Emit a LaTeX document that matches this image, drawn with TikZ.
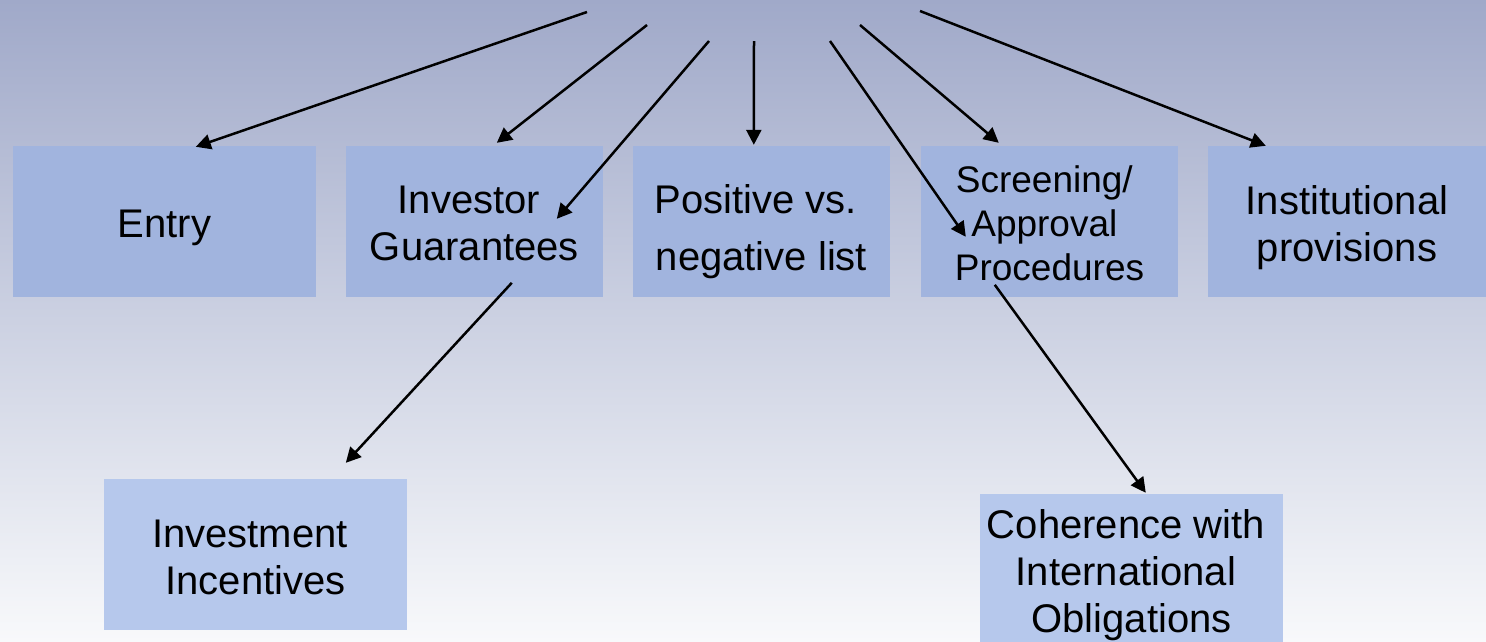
\documentclass[tikz,border=0pt]{standalone}
\usepackage{fontspec}
\setmainfont{Liberation Sans}
\usetikzlibrary{arrows.meta,calc}
\definecolor{bgtop}{HTML}{A0A9C9}
\definecolor{bgbot}{HTML}{F8F9FB}
\definecolor{boxtop}{HTML}{A1B4DE}
\definecolor{boxbot}{HTML}{B6C8EC}
% #1 = lift of the first baseline above the box centre
\newcommand\boxtext[2]{\raisebox{#1}[0pt][0pt]{\begin{tabular}[t]{@{}c@{}}#2\end{tabular}}}
% trailing space kept at a line end
\newcommand\tsp{\hspace{0.278em}\kern0pt}
\tikzset{
  box/.style={fill=boxtop, draw=none, minimum height=151pt, inner sep=0pt,
    font=\fontsize{40}{47}\selectfont, text=black},
  lowbox/.style={box, fill=boxbot},
  arr/.style={line width=2.5pt, -{Triangle[length=15pt,width=15pt]}}
}
\begin{document}
\begin{tikzpicture}[x=1pt,y=-1pt]
\useasboundingbox (0,0) rectangle (1486,641);
\clip (0,0) rectangle (1486,641);
\shade[top color=bgtop, bottom color=bgbot] (0,0) rectangle (1486,641);
% top row
\node[box, minimum width=303pt] (entry) at (164.5,221.5) {\boxtext{-15.5pt}{Entry}};
\node[box, minimum width=257pt] (inv) at (474.5,221.5) {\boxtext{8.2pt}{Investor\tsp\\Guarantees}};
\node[box, minimum width=257pt] (pos) at (761.5,221.5) {\boxtext{8.5pt}{Positive vs.\tsp\\[10pt]negative list}};
\node[box, minimum width=257pt, font=\fontsize{37}{44}\selectfont] (scr) at (1049.5,221.5) {\boxtext{29.5pt}{Screening/\tsp\\Approval\tsp\\Procedures}};
\node[box, minimum width=278pt] (inst) at (1347,221.5) {\boxtext{7.5pt}{Institutional\\provisions}};
% bottom row
\node[lowbox, minimum width=303pt] (incent) at (255.5,554.5) {\boxtext{7.5pt}{Investment\tsp\\Incentives}};
\node[lowbox, minimum width=303pt, minimum height=156pt] (coh) at (1131.5,572) {\boxtext{33.3pt}{Coherence with\tsp\\International\tsp\\Obligations}};
% free start points
\coordinate (s1) at (587,12);
\coordinate (s2) at (647,25);
\coordinate (s3) at (709,41);
\coordinate (s4) at (754,41);
\coordinate (s5) at (830,41);
\coordinate (s6) at (860,25);
\coordinate (s7) at (920,11);
% arrows
\draw[arr] (s1) -- ($(entry.north west)+(183,1)$);
\draw[arr] (s2) -- ($(inv.north west)+(151,-3)$);
\draw[arr] (s3) -- ($(inv.north west)+(211,73)$);
\draw[arr] (s4) -- ($(pos.north west)+(121,-1)$);
\draw[arr] (s5) -- ($(scr.north west)+(45,91)$);
\draw[arr] (s6) -- ($(scr.north west)+(78,-3)$);
\draw[arr] (s7) -- ($(inst.north west)+(58,0)$);
\draw[arr] ($(inv.north west)+(166,137)$) -- ($(incent.north west)+(242,-16)$);
\draw[arr] ($(scr.north west)+(74,139)$) -- ($(coh.north west)+(166,-1)$);
\end{tikzpicture}
\end{document}
